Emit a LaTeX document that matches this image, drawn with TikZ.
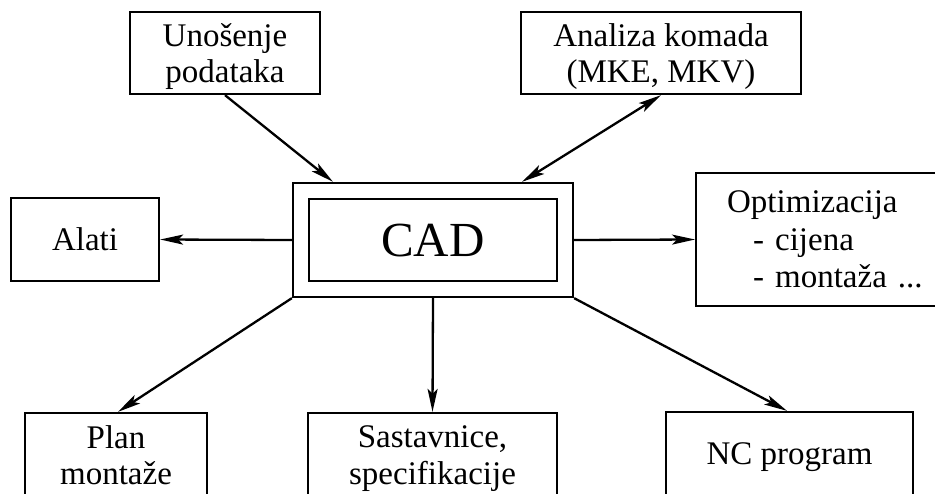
\documentclass[tikz,border=0pt]{standalone}
\usepackage{fontspec}
\setmainfont{Liberation Serif}
\usetikzlibrary{arrows.meta}
\begin{document}
\begin{tikzpicture}[x=1pt,y=-1pt,
  box/.style={draw, line width=2.3pt, align=center, inner sep=0pt,
    text depth=0pt, font=\fontsize{33}{36.5}\selectfont},
  conn/.style={line width=2.3pt, -{Stealth[length=23pt,width=10pt,inset=5pt]}},
  biconn/.style={line width=2.3pt, {Stealth[length=23pt,width=10pt,inset=5pt]}-{Stealth[length=23pt,width=10pt,inset=5pt]}}]
\useasboundingbox (0,0) rectangle (935,493);

% central system: double frame
\node[draw, line width=2.3pt, minimum width=280pt, minimum height=114pt, inner sep=0pt] (cadout) at (433,240) {};
\node[box, minimum width=248pt, minimum height=82pt, font=\fontsize{49}{52}\selectfont] (cad) at (433,240) {CAD};

% surrounding modules
\node[box, minimum width=190pt, minimum height=82pt] (un) at (225,53) {Unošenje\\podataka};
\node[box, minimum width=280pt, minimum height=82pt] (an) at (661,53) {Analiza komada\\(MKE, MKV)};
\node[box, minimum width=148pt, minimum height=83pt] (al) at (85,239.5) {Alati};
\node[box, anchor=west, align=left, minimum height=133pt, inner xsep=31pt,
  text width=240pt, text depth=75pt, font=\fontsize{33}{37.5}\selectfont] (opt) at (695,239.5)
  {Optimizacija\\\hspace*{26pt}- cijena\\\hspace*{26pt}- montaža ...};
\node[box, minimum width=182pt, minimum height=84pt] (plan) at (116,455) {Plan\\montaže};
\node[box, minimum width=249pt, minimum height=84pt] (sast) at (432.5,455) {Sastavnice,\\specifikacije};
\node[box, minimum width=247pt, minimum height=84pt] (nc) at (789.5,454) {NC program};

% connectors
\coordinate (inun) at ([xshift=-100pt]cadout.north);
\coordinate (inan) at ([xshift=89pt]cadout.north);
\draw[conn] (un.south) -- (inun);
\draw[biconn] (an.south) -- (inan);
\draw[conn] (cadout.west) -- (al.east);
\draw[conn] (cadout.east) -- (opt.west);
\draw[conn] (cadout.south west) -- ([xshift=2pt]plan.north);
\draw[conn] (cadout.south) -- (sast.north);
\draw[conn] (cadout.south east) -- ([xshift=-2.5pt]nc.north);
\end{tikzpicture}
\end{document}
